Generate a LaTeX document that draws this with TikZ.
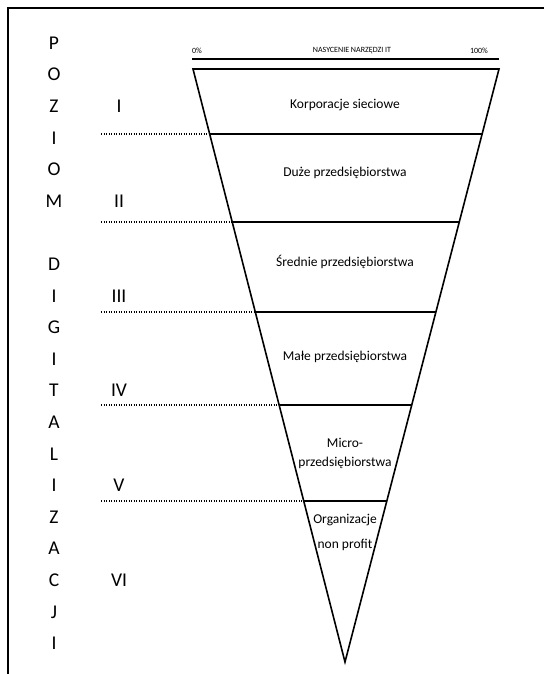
\documentclass[tikz,border=0pt]{standalone}
\usepackage{fontspec}
\setmainfont{Carlito}
\usetikzlibrary{positioning,calc}

\tikzset{
	letter/.style = {font=\fontsize{19.5}{19.5}\selectfont, inner sep=0pt, text height=12.6pt, text depth=0pt},
	level/.style = {letter},
	group/.style = {font=\fontsize{13.5}{19}\selectfont, align=center, inner sep=0pt},
	axislabel/.style = {font=\fontsize{8}{8}\selectfont, inner sep=0pt},
	funnel/.style = {line width=1.6pt, line join=miter},
	levelline/.style = {line width=1.2pt, dash pattern=on 1.2pt off 1.3pt},
	frame/.style = {line width=1.3pt}
}

\begin{document}
\begin{tikzpicture}[x=1pt, y=-1pt, on grid, node distance=31.6pt]
	\useasboundingbox (0,0) rectangle (544,674);
	\draw[frame] (544,8) -- (8,8) -- (8,674);
	
	% napis pionowy
	\node[letter] (p) at (54,43) {P};
	\node[letter, below = of p](o1){O};
	\node[letter, below = of o1](z1){Z};
	\node[letter, below = of z1](i1){I};
	\node[letter, below = of i1](o2){O};
	\node[letter, below = of o2](m){M};
	\node[letter, below = 63.2pt of m](d){D};
	\node[letter, below = of d](i2){I};
	\node[letter, below = of i2](g){G};
	\node[letter, below = of g](i3){I};
	\node[letter, below = of i3](t){T};
	\node[letter, below = of t](a1){A};
	\node[letter, below = of a1](l){L};
	\node[letter, below = of l](i4){I};
	\node[letter, below = of i4](z2){Z};
	\node[letter, below = of z2](a2){A};
	\node[letter, below = of a2](c){C};
	\node[letter, below = of c](j){J};
	\node[letter, below = of j](i5){I};
	
	% poziomy
	\node[level, right = 65pt of z1](lvl1){I};
	\node[level, right = 65pt of m](lvl2){II};
	\node[level, right = 65pt of i2](lvl3){III};
	\node[level, right = 65pt of t](lvl4){IV};
	\node[level, right = 65pt of i4](lvl5){V};
	\node[level, right = 65pt of c](lvl6){VI};
	
	% os
	\coordinate (a0) at (192,59);
	\coordinate (a100) at (499,59);
	\draw[funnel] (a0) -- (a100);
	\node[axislabel](zero) at (197,51){0\%};
	\node[axislabel](title) at (352,51){NASYCENIE NARZĘDZI IT};
	\node[axislabel](full) at (479,51){100\%};
	
	% lejek
	\coordinate (tl) at (193,69);
	\coordinate (tr) at (499,69);
	\coordinate (apex) at (345,662);
	\draw[funnel] (tl) -- (tr) -- (apex) -- cycle;
	
	\coordinate (l1) at ($(tl)!0.1096!(apex)$);
	\coordinate (r1) at ($(tr)!0.1096!(apex)$);
	\coordinate (l2) at ($(tl)!0.2580!(apex)$);
	\coordinate (r2) at ($(tr)!0.2580!(apex)$);
	\coordinate (l3) at ($(tl)!0.4098!(apex)$);
	\coordinate (r3) at ($(tr)!0.4098!(apex)$);
	\coordinate (l4) at ($(tl)!0.5666!(apex)$);
	\coordinate (r4) at ($(tr)!0.5666!(apex)$);
	\coordinate (l5) at ($(tl)!0.7285!(apex)$);
	\coordinate (r5) at ($(tr)!0.7285!(apex)$);
	\coordinate (dstart) at (101,0);
	
	\draw[funnel] (l1) -- (r1);
	\draw[funnel] (l2) -- (r2);
	\draw[funnel] (l3) -- (r3);
	\draw[funnel] (l4) -- (r4);
	\draw[funnel] (l5) -- (r5);
	
	\draw[levelline] (l1 -| dstart) -- (l1);
	\draw[levelline] (l2 -| dstart) -- (l2);
	\draw[levelline] (l3 -| dstart) -- (l3);
	\draw[levelline] (l4 -| dstart) -- (l4);
	\draw[levelline] (l5 -| dstart) -- (l5);
	
	\node[group](korp) at (345,105){Korporacje sieciowe};
	\node[group](duze) at (345,173){Duże przedsiębiorstwa};
	\node[group](srednie) at (345,262){Średnie przedsiębiorstwa};
	\node[group](male) at (345,357){Małe przedsiębiorstwa};
	\node[group](micro) at (345,453){Micro-\\przedsiębiorstwa};
	\node[group](npo) at (345,532){Organizacje\\[6pt]non profit};
\end{tikzpicture}
\end{document}
